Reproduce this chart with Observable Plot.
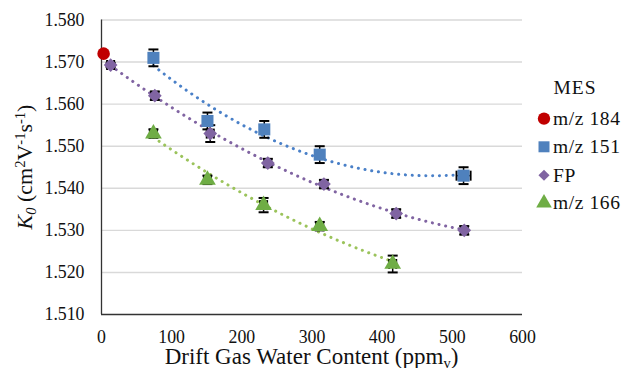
<!DOCTYPE html>
<html>
<head>
<meta charset="utf-8">
<script src="https://cdn.jsdelivr.net/npm/d3@7"></script>
<script src="https://cdn.jsdelivr.net/npm/@observablehq/plot@0.6"></script>
<style>
  html, body { margin: 0; padding: 0; background: #fff; }
  #chart { position: relative; width: 623px; height: 368px; }
  #chart svg text, #chart svg tspan { font-family: serif !important; }
  #chart svg .lib, #chart svg .lib tspan { font-family: "Liberation Serif", serif !important; }
</style>
</head>
<body>
<div id="chart"></div>
<script>
// ---- data ----
const seriesNames = ["m/z 184", "m/z 151", "FP", "m/z 166"];
const seriesColors = ["#C00000", "#4F81BD", "#8064A2", "#6FAD45"];
const trendColors = ["#C00000", "#4A80C8", "#8064A2", "#9BC35B"];
const seriesSymbols = ["circle", "square", "diamond2", "triangle"];

const mz184X = [3];
const mz184Y = [1.572];
const mz184YErr = [0];
const mz184XErr = [0];

const mz151X = [74, 151, 232, 311, 516];
const mz151Y = [1.571, 1.556, 1.554, 1.548, 1.543];
const mz151YErr = [0.002, 0.002, 0.002, 0.002, 0.002];
const mz151XErr = [5, 5, 5, 5, 10];

const fpX = [13, 76, 155, 237, 317, 420, 517];
const fpY = [1.5693, 1.562, 1.553, 1.546, 1.541, 1.534, 1.530];
const fpYErr = [0.0005, 0.001, 0.002, 0.001, 0.001, 0.001, 0.001];
const fpXErr = [5, 5, 5, 5, 5, 5, 5];

const mz166X = [74, 151, 231, 311, 415];
const mz166Y = [1.553, 1.542, 1.536, 1.531, 1.522];
const mz166YErr = [0.001, 0.001, 0.0017, 0.001, 0.002];
const mz166XErr = [5, 5, 5, 5, 5];

const xTicks = [0, 100, 200, 300, 400, 500, 600];
const yTicks = [1.510, 1.520, 1.530, 1.540, 1.550, 1.560, 1.570, 1.580];

// ---- build table ----
const raw = [
  [mz184X, mz184Y, mz184YErr, mz184XErr],
  [mz151X, mz151Y, mz151YErr, mz151XErr],
  [fpX, fpY, fpYErr, fpXErr],
  [mz166X, mz166Y, mz166YErr, mz166XErr]
];
const points = [];
raw.forEach(([xs, ys, ye, xe], si) => {
  xs.forEach((x, i) => points.push({
    s: seriesNames[si], si, x, y: ys[i], ye: ye[i], xe: xe[i]
  }));
});
const withErr = points.filter(d => d.si > 0);

// quadratic least-squares trendline (Excel polynomial, order 2)
function quadFit(xs, ys) {
  const n = xs.length;
  let S = [0, 0, 0, 0, 0], T = [0, 0, 0];
  for (let i = 0; i < n; i++) {
    let p = 1;
    for (let k = 0; k < 5; k++) { S[k] += p; p *= xs[i]; }
    T[0] += ys[i]; T[1] += ys[i] * xs[i]; T[2] += ys[i] * xs[i] * xs[i];
  }
  const A = [[S[0], S[1], S[2], T[0]], [S[1], S[2], S[3], T[1]], [S[2], S[3], S[4], T[2]]];
  for (let c = 0; c < 3; c++) {
    for (let r = c + 1; r < 3; r++) {
      const f = A[r][c] / A[c][c];
      for (let k = c; k < 4; k++) A[r][k] -= f * A[c][k];
    }
  }
  const b = [0, 0, 0];
  for (let r = 2; r >= 0; r--) {
    let s = A[r][3];
    for (let k = r + 1; k < 3; k++) s -= A[r][k] * b[k];
    b[r] = s / A[r][r];
  }
  return x => b[0] + b[1] * x + b[2] * x * x;
}
const trends = [];
raw.forEach(([xs, ys], si) => {
  if (xs.length < 3) return;
  const f = quadFit(xs, ys);
  const x0 = d3.min(xs), x1 = d3.max(xs);
  const N = 120;
  for (let k = 0; k <= N; k++) {
    const x = x0 + (x1 - x0) * k / N;
    trends.push({ s: seriesNames[si], si, x, y: f(x) });
  }
});

// custom symbols for error-bar caps
const capH = { draw(ctx, size) { const r = Math.sqrt(size / Math.PI); ctx.moveTo(-r, 0); ctx.lineTo(r, 0); } };
const capV = { draw(ctx, size) { const r = Math.sqrt(size / Math.PI); ctx.moveTo(0, -r); ctx.lineTo(0, r); } };

const markerR = [6.3, 6.8, 6.2, 6.2];

const plot = Plot.plot({
  width: 623,
  height: 368,
  marginLeft: 101,
  marginRight: 101,
  marginTop: 19.5,
  marginBottom: 54,
  style: { fontSize: "17.8px", color: "#111", background: "#fff" },
  x: { domain: [0, 600], ticks: xTicks },
  y: { domain: [1.510, 1.580], ticks: yTicks, tickFormat: d3.format(".3f") },
  r: { type: "identity" },
  marks: [
    Plot.gridY(yTicks.slice(1), { stroke: "#d9d9d9", strokeOpacity: 1, strokeWidth: 1.4 }),
    Plot.axisY({ ticks: yTicks, tickSize: 0, tickPadding: 17, label: null, tickFormat: d3.format(".3f") }),
    Plot.axisX({ ticks: xTicks, tickSize: 0, tickPadding: 16, label: null }),
    Plot.ruleY([1.510], { stroke: "#333", strokeWidth: 1.3 }),
    Plot.ruleX([0], { stroke: "#333", strokeWidth: 1.3 }),
    Plot.line(trends, {
      x: "x", y: "y", z: "s",
      stroke: d => trendColors[d.si],
      strokeWidth: 3, strokeLinecap: "round", strokeDasharray: "0.1 6.7"
    }),
    Plot.ruleX(withErr, { x: "x", y1: d => d.y - d.ye, y2: d => d.y + d.ye, stroke: "#000", strokeWidth: 1.5 }),
    Plot.dot(withErr, { x: "x", y: d => d.y - d.ye, symbol: capH, r: 5, stroke: "#000", strokeWidth: 2 }),
    Plot.dot(withErr, { x: "x", y: d => d.y + d.ye, symbol: capH, r: 5, stroke: "#000", strokeWidth: 2 }),
    Plot.ruleY(withErr, { y: "y", x1: d => d.x - d.xe, x2: d => d.x + d.xe, stroke: "#000", strokeWidth: 1.5 }),
    Plot.dot(withErr, { x: d => d.x - d.xe, y: "y", symbol: capV, r: 5, stroke: "#000", strokeWidth: 2 }),
    Plot.dot(withErr, { x: d => d.x + d.xe, y: "y", symbol: capV, r: 5, stroke: "#000", strokeWidth: 2 }),
    Plot.dot(points, {
      x: "x", y: "y",
      symbol: d => seriesSymbols[d.si],
      fill: d => seriesColors[d.si],
      r: d => markerR[d.si],
      stroke: "none"
    })
  ]
});

document.getElementById("chart").appendChild(plot);

const svg = d3.select(plot);
svg.selectAll("text").style("fill", "#111");

// y title
const yt = svg.append("text")
  .attr("class", "lib")
  .attr("transform", "translate(32,167) rotate(-90)")
  .attr("text-anchor", "middle")
  .attr("font-size", 22)
  .attr("fill", "#111");
yt.append("tspan").attr("font-style", "italic").text("K");
yt.append("tspan").attr("font-style", "italic").attr("font-size", 14.5).attr("dy", 4).text("0");
yt.append("tspan").attr("dy", -4).text(" (cm");
yt.append("tspan").attr("font-size", 14.5).attr("dy", -7.5).text("2");
yt.append("tspan").attr("dy", 7.5).text("V");
yt.append("tspan").attr("font-size", 14.5).attr("dy", -7.5).text("-1");
yt.append("tspan").attr("dy", 7.5).text("s");
yt.append("tspan").attr("font-size", 14.5).attr("dy", -7.5).text("-1");
yt.append("tspan").attr("dy", 7.5).text(")");

// x title
const xt = svg.append("text")
  .attr("class", "lib")
  .attr("x", 311.5).attr("y", 363.5)
  .attr("text-anchor", "middle")
  .attr("font-size", 23)
  .attr("fill", "#111");
xt.append("tspan").text("Drift Gas Water Content (ppm");
xt.append("tspan").attr("font-size", 14.5).attr("dy", 4).text("v");
xt.append("tspan").attr("dy", -4).text(")");

// legend
const lg = svg.append("g").attr("fill", "#111").attr("text-anchor", "start");
lg.append("text").attr("class", "lib").attr("x", 575).attr("y", 93.5).attr("text-anchor", "middle")
  .attr("font-size", 19.5).attr("letter-spacing", 1).append("tspan").text("MES");
const legY = [118.6, 146.8, 175.3, 203];
const symMap = { circle: d3.symbolCircle, square: d3.symbolSquare, diamond2: d3.symbolDiamond2, triangle: d3.symbolTriangle };
const legR = [6.2, 6.2, 5, 5.8];
seriesNames.forEach((name, i) => {
  lg.append("path")
    .attr("transform", `translate(544,${legY[i]})`)
    .attr("d", d3.symbol(symMap[seriesSymbols[i]], legR[i] * legR[i] * Math.PI)())
    .attr("fill", seriesColors[i]);
  lg.append("text").attr("class", "lib").attr("x", 553).attr("y", legY[i] + 6.3).attr("text-anchor", "start")
    .attr("font-size", 19.5).attr("letter-spacing", 0.6).append("tspan").text(name);
});
</script>
</body>
</html>
